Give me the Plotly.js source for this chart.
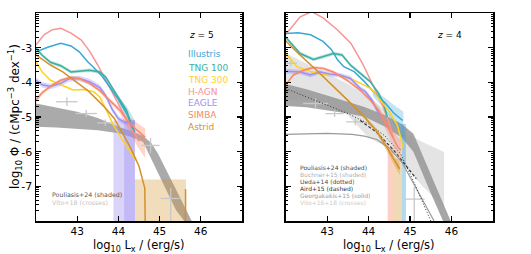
<!DOCTYPE html>
<html><head><meta charset="utf-8">
<script src="https://cdn.plot.ly/plotly-3.0.1.min.js"></script>
<style>html,body{margin:0;padding:0;background:#fff}#chart{width:531px;height:254px}</style>
</head><body><div id="chart"></div>
<script>
// ---------- z = 5 (left panel) ----------
const illus5_x = [42.0, 42.3, 42.6, 42.85, 43.05, 43.25, 43.4, 43.6, 43.8, 44.0, 44.2, 44.4];
const illus5_y = [-3.12, -2.98, -2.87, -2.95, -3.12, -3.40, -3.57, -3.82, -4.15, -4.5, -4.9, -5.44];
const teal5_x = [42.0, 42.15, 42.35, 42.6, 42.85, 43.05, 43.3, 43.55, 43.7, 43.85, 44.0, 44.2, 44.35];
const teal5_y = [-3.02, -3.22, -3.42, -3.52, -3.70, -3.67, -3.65, -3.70, -3.86, -4.15, -4.45, -4.82, -5.35];
const tng300_5_x = [42.0, 42.15, 42.35, 42.6, 42.9, 43.15, 43.4, 43.55, 43.7, 43.9, 44.1, 44.28, 44.42];
const tng300_5_y = [-3.41, -3.70, -3.94, -4.07, -4.22, -4.21, -4.27, -4.42, -4.78, -5.28, -5.66, -6.0, -6.25];
const hagn5_x = [42.0, 42.2, 42.4, 42.6, 42.85, 43.1, 43.3, 43.5, 43.7, 43.9, 44.1, 44.3, 44.5];
const hagn5_y = [-2.92, -2.62, -2.48, -2.44, -2.58, -2.78, -3.1, -3.5, -3.95, -4.4, -4.85, -5.3, -5.7];
const eagle5_x = [42.0, 42.15, 42.35, 42.6, 42.8, 43.05, 43.3, 43.55, 43.7, 43.85, 44.0, 44.15, 44.4];
const eagle5_y = [-3.94, -4.07, -4.12, -4.03, -3.90, -3.89, -3.98, -4.15, -4.40, -4.78, -5.05, -5.15, -5.17];
const eagle5_e = [0.08, 0.08, 0.08, 0.08, 0.08, 0.08, 0.08, 0.08, 0.08, 0.08, 0.08, 0.08, 0.08];
const simba5_x = [42.0, 42.15, 42.35, 42.6, 42.85, 43.05, 43.3, 43.55, 43.7, 43.85, 44.05, 44.2, 44.45, 44.65];
const simba5_y = [-4.51, -4.30, -4.12, -3.94, -3.86, -3.89, -4.03, -4.24, -4.42, -4.60, -4.82, -5.08, -5.38, -5.58];
const simba5_up = [0.08, 0.06, 0.05, 0.05, 0.05, 0.05, 0.05, 0.05, 0.05, 0.06, 0.08, 0.12, 0.2, 0.25];
const simba5_dn = [0.08, 0.06, 0.05, 0.05, 0.05, 0.05, 0.05, 0.05, 0.05, 0.06, 0.1, 0.2, 0.45, 0.6];
const teal5_e = [0.05, 0.05, 0.05, 0.05, 0.05, 0.05, 0.05, 0.05, 0.05, 0.05, 0.06, 0.08, 0.1];
const astrid5_x = [42.0, 42.35, 42.65, 43.0, 43.25, 43.5, 43.7, 43.9, 44.1, 44.3, 44.5, 44.64, 44.65];
const astrid5_y = [-3.21, -3.50, -3.70, -4.0, -4.23, -4.52, -4.76, -5.04, -5.45, -5.9, -6.42, -7.05, -8.0];
const astrid5_tail_x = [45.63, 45.63];
const astrid5_tail_y = [-7.08, -8.0];
const astrid5_box = [44.40, 45.64, -6.8];
const eagle5_box1 = [43.88, 44.40, -5.1];
const eagle5_box2 = [44.14, 44.40, -5.1];
const illus5_band_x = [44.0, 44.2, 44.4];
const illus5_band_hi = [-4.4, -4.7, -5.1];
const illus5_band_lo = [-4.6, -5.1, -5.6];
const pou5_x = [42.0, 42.5, 43.0, 43.5, 44.0, 44.3, 44.6, 44.8, 44.96, 45.2, 45.4, 45.6, 45.78];
const pou5_hi = [-4.61, -4.73, -4.85, -5.03, -5.28, -5.40, -5.55, -5.75, -6.05, -6.62, -7.1, -7.57, -8.0];
const pou5_lo = [-5.28, -5.30, -5.33, -5.38, -5.47, -5.57, -5.72, -6.25, -6.6, -7.2, -7.69, -8.0, -8.0];
const vito5_x = [42.75, 43.22, 43.68, 44.78, 45.27];
const vito5_y = [-4.56, -4.90, -5.17, -5.82, -7.35];
const vito5_xerr = [0.26, 0.26, 0.2, 0.22, 0.25];
const vito5_yup = [0.12, 0.1, 0.1, 0.22, 0.3];
const vito5_ydn = [0.12, 0.1, 0.1, 0.22, 0.7];

// ---------- z = 4 (right panel) ----------
const illus4_x = [42.0, 42.3, 42.6, 42.9, 43.1, 43.25, 43.4, 43.65, 43.9, 44.15, 44.4, 44.6, 44.82];
const illus4_y = [-2.59, -2.57, -2.63, -2.82, -3.05, -3.35, -3.55, -3.69, -3.98, -4.32, -4.6, -4.88, -5.1];
const illus4_band_x = [44.1, 44.4, 44.6, 44.84];
const illus4_band_hi = [-4.2, -4.45, -4.65, -4.85];
const illus4_band_lo = [-4.4, -4.8, -5.2, -5.65];
const teal4_x = [42.0, 42.35, 42.67, 42.91, 43.15, 43.36, 43.56, 43.8, 44.04, 44.24, 44.36, 44.45];
const teal4_y = [-2.70, -3.17, -3.34, -3.26, -3.17, -3.21, -3.50, -3.74, -3.98, -4.32, -4.61, -5.0];
const teal4_e = [0.05, 0.05, 0.05, 0.05, 0.05, 0.05, 0.05, 0.05, 0.05, 0.06, 0.08, 0.1];
const tng300_4_x = [42.0, 42.27, 42.6, 42.92, 43.24, 43.56, 43.81, 44.05, 44.29, 44.53, 44.69, 44.77, 44.82];
const tng300_4_y = [-3.16, -3.55, -3.69, -3.79, -3.79, -3.89, -4.03, -4.18, -4.52, -4.90, -5.24, -5.57, -5.86];
const hagn4_x = [42.0, 42.35, 42.63, 42.91, 43.25, 43.57, 43.85, 44.05, 44.17, 44.35, 44.5, 44.6];
const hagn4_y = [-2.62, -2.11, -1.96, -2.15, -2.49, -2.87, -3.45, -3.94, -4.23, -4.7, -5.2, -5.6];
const eagle4_x = [42.0, 42.35, 42.59, 42.83, 43.07, 43.31, 43.56, 43.8, 43.92, 44.08, 44.2, 44.28];
const eagle4_y = [-3.68, -3.70, -3.79, -3.70, -3.76, -3.79, -3.89, -4.18, -4.27, -4.51, -4.80, -4.95];
const eagle4_e = [0.07, 0.07, 0.07, 0.07, 0.07, 0.07, 0.07, 0.07, 0.07, 0.07, 0.08, 0.08];
const simba4_x = [42.0, 42.18, 42.43, 42.67, 42.91, 43.15, 43.48, 43.8, 44.04, 44.24, 44.4, 44.55, 44.7, 44.78];
const simba4_y = [-4.08, -3.79, -3.65, -3.57, -3.60, -3.70, -3.94, -4.23, -4.51, -4.80, -5.15, -5.5, -5.86, -5.95];
const simba4_e = [0.04, 0.04, 0.04, 0.04, 0.04, 0.04, 0.04, 0.04, 0.05, 0.1, 0.15, 0.22, 0.28, 0.3];
const astrid4_x = [42.0, 42.3, 42.7, 43.1, 43.5, 43.9, 44.2, 44.45, 44.65, 44.75];
const astrid4_y = [-2.80, -3.16, -3.6, -4.05, -4.52, -5.0, -5.42, -5.9, -6.3, -6.5];
const astrid4_e = [0.02, 0.02, 0.02, 0.02, 0.03, 0.05, 0.08, 0.12, 0.15, 0.18];
const simba4_box = [44.46, 44.60, -5.9];
const astrid4_box = [44.60, 44.80, -6.2];
const illus4_box = [44.80, 44.90, -5.2];
const buch4_x = [42.0, 42.5, 43.0, 43.5, 44.0, 44.5, 44.85, 45.3, 45.82];
const buch4_hi = [-3.16, -3.45, -3.75, -4.05, -4.4, -4.9, -5.43, -5.72, -6.01];
const buch4_lo = [-4.5, -4.55, -4.65, -4.95, -5.6, -5.9, -6.4, -7.0, -7.6];
const pou4_x = [42.0, 42.5, 43.0, 43.5, 43.9, 44.4, 44.8, 45.08, 45.5, 45.98];
const pou4_hi = [-4.05, -4.2, -4.38, -4.57, -4.71, -4.95, -5.2, -5.48, -6.66, -8.0];
const pou4_lo = [-4.68, -4.72, -4.8, -4.9, -4.99, -5.28, -5.6, -6.0, -7.2, -8.5];
const ueda4_x = [42.0, 42.5, 43.0, 43.5, 44.0, 44.4, 44.77, 45.1, 45.5];
const ueda4_y = [-4.18, -4.42, -4.65, -4.9, -5.2, -5.55, -6.06, -6.9, -8.0];
const aird4_x = [43.8, 44.2, 44.6, 45.0, 45.15];
const aird4_y = [-5.1, -5.45, -5.95, -6.55, -6.78];
const geo4_x = [42.0, 43.0, 43.6, 43.9, 44.2, 44.5, 44.8, 45.1, 45.4, 45.58];
const geo4_y = [-5.5, -5.47, -5.5, -5.55, -5.65, -5.9, -6.3, -6.95, -7.6, -8.0];
const vito4_x = [42.12, 42.72, 43.18, 43.68, 45.1];
const vito4_y = [-3.45, -4.61, -4.9, -5.14, -7.37];
const vito4_xerr = [0.15, 0.3, 0.22, 0.22, 0.25];
const vito4_yup = [0.1, 0.15, 0.1, 0.1, 0.35];
const vito4_ydn = [0.1, 0.15, 0.1, 0.1, 0.7];

// ---------- axis ticks / labels ----------
const xTicks = [43, 44, 45, 46];
const xTickText = ['43', '44', '45', '46'];
const yTicks = [-7, -6, -5, -4, -3];
const yTickText = ['-7', '-6', '-5', '-4', '-3'];
const simNames = ['Illustris', 'TNG 100', 'TNG 300', 'H-AGN', 'EAGLE', 'SIMBA', 'Astrid'];
const simColors = ['#3aa6d8', '#3ab0a0', '#ffd21f', '#f59595', '#9f8ff2', '#f8896a', '#d4912a'];
const obs5Text = ['Pouliasis+24 (shaded)', 'Vito+18 (crosses)'];
const obs5Colors = ['#555555', '#c4c4c4'];
const obs4Text = ['Pouliasis+24 (shaded)', 'Buchner+15 (shaded)', 'Ueda+14 (dotted)', 'Aird+15 (dashed)', 'Georgakakis+15 (solid)', 'Vito+16+18 (crosses)'];
const obs4Colors = ['#4a4a4a', '#b0b0b0', '#4a4a4a', '#333333', '#9a9a9a', '#cccccc'];

const minorY = [];
for (let d = -8; d < -2; d++) for (let k = 2; k <= 9; k++) minorY.push(d + Math.log10(k));

function rgba(hex, a) {
  const n = parseInt(hex.slice(1), 16);
  return 'rgba(' + (n >> 16) + ',' + ((n >> 8) & 255) + ',' + (n & 255) + ',' + a + ')';
}
const base = {hoverinfo: 'skip', showlegend: false};
function line(x, y, color, ax, opts) {
  return Object.assign({x: x, y: y, mode: 'lines', line: Object.assign({color: color, width: 1.5}, opts || {}),
    xaxis: ax[0], yaxis: ax[1]}, base);
}
function band(x, lo, hi, color, ax) {
  return Object.assign({x: x.concat(x.slice().reverse()), y: hi.concat(lo.slice().reverse()),
    mode: 'lines', fill: 'toself', fillcolor: color, line: {width: 0}, xaxis: ax[0], yaxis: ax[1]}, base);
}
function errBand(x, y, up, dn, color, ax) {
  return band(x, y.map((v, i) => v - dn[i]), y.map((v, i) => v + up[i]), color, ax);
}
function box(b, color, ax) {
  return band([b[0], b[1]], [-8.2, -8.2], [b[2], b[2]], color, ax);
}
function crosses(x, y, xe, yu, yd, ax) {
  return Object.assign({x: x, y: y, mode: 'markers', marker: {size: 1, opacity: 0},
    error_x: {type: 'data', array: xe, color: '#c8c8c8', thickness: 1.3, width: 0},
    error_y: {type: 'data', symmetric: false, array: yu, arrayminus: yd, color: '#c8c8c8', thickness: 1.3, width: 0},
    xaxis: ax[0], yaxis: ax[1]}, base);
}
const A = ['x', 'y'], B = ['x2', 'y2'];
const C = simColors;

const traces = [
  // left panel
  band(pou5_x, pou5_lo, pou5_hi, 'rgba(155,155,155,0.85)', A),
  box(astrid5_box, rgba(C[6], 0.32), A),
  box(eagle5_box1, rgba(C[4], 0.38), A),
  box(eagle5_box2, rgba(C[4], 0.38), A),
  band(illus5_band_x, illus5_band_lo, illus5_band_hi, rgba(C[0], 0.3), A),
  errBand(teal5_x, teal5_y, teal5_e, teal5_e, rgba(C[1], 0.35), A),
  errBand(eagle5_x, eagle5_y, eagle5_e, eagle5_e, rgba(C[4], 0.35), A),
  errBand(simba5_x, simba5_y, simba5_up, simba5_dn, rgba(C[5], 0.35), A),
  crosses(vito5_x, vito5_y, vito5_xerr, vito5_yup, vito5_ydn, A),
  line(hagn5_x, hagn5_y, C[3], A),
  line(illus5_x, illus5_y, C[0], A),
  line(teal5_x, teal5_y, C[1], A),
  line(tng300_5_x, tng300_5_y, C[2], A),
  line(eagle5_x, eagle5_y, C[4], A),
  line(simba5_x, simba5_y, C[5], A),
  line(astrid5_x, astrid5_y, C[6], A),
  line(astrid5_tail_x, astrid5_tail_y, C[6], A),
  // right panel
  band(buch4_x, buch4_lo, buch4_hi, 'rgba(210,210,210,0.6)', B),
  band(pou4_x, pou4_lo, pou4_hi, 'rgba(150,150,150,0.85)', B),
  box(simba4_box, rgba(C[5], 0.4), B),
  box(astrid4_box, rgba(C[6], 0.35), B),
  box(illus4_box, rgba(C[0], 0.4), B),
  crosses(vito4_x, vito4_y, vito4_xerr, vito4_yup, vito4_ydn, B),
  line(geo4_x, geo4_y, '#9a9a9a', B, {width: 1.2}),
  line(ueda4_x, ueda4_y, '#333333', B, {width: 1, dash: '1px,2px'}),
  line(aird4_x, aird4_y, '#333333', B, {width: 1.2, dash: '3px,2px'}),
  band(illus4_band_x, illus4_band_lo, illus4_band_hi, rgba(C[0], 0.3), B),
  errBand(teal4_x, teal4_y, teal4_e, teal4_e, rgba(C[1], 0.35), B),
  errBand(eagle4_x, eagle4_y, eagle4_e, eagle4_e, rgba(C[4], 0.35), B),
  errBand(simba4_x, simba4_y, simba4_e, simba4_e, rgba(C[5], 0.35), B),
  errBand(astrid4_x, astrid4_y, astrid4_e, astrid4_e, rgba(C[6], 0.35), B),
  line(hagn4_x, hagn4_y, C[3], B),
  line(illus4_x, illus4_y, C[0], B),
  line(teal4_x, teal4_y, C[1], B),
  line(tng300_4_x, tng300_4_y, C[2], B),
  line(eagle4_x, eagle4_y, C[4], B),
  line(simba4_x, simba4_y, C[5], B),
  line(astrid4_x, astrid4_y, C[6], B)
];

const FONT = 'DejaVu Sans, sans-serif';
function xax(dom, anchor) {
  return {domain: dom, anchor: anchor, range: [42, 47], tickmode: 'array', tickvals: xTicks, ticktext: xTickText,
    ticks: 'inside', ticklen: 5, tickwidth: 1.2, tickcolor: '#000', showline: true, linecolor: '#000', linewidth: 1.5,
    mirror: 'ticks', showgrid: false, zeroline: false, tickfont: {family: FONT, size: 10.5, color: '#000'}};
}
function yax(anchor, labels) {
  return {anchor: anchor, domain: [0, 1], range: [-8, -2], tickmode: 'array', tickvals: yTicks, ticktext: yTickText,
    showticklabels: labels, ticks: 'inside', ticklen: 5, tickwidth: 1.2, tickcolor: '#000', showline: true,
    linecolor: '#000', linewidth: 1.5, mirror: 'ticks', showgrid: false, zeroline: false,
    tickfont: {family: FONT, size: 11, color: '#000'},
    minor: {tickmode: 'array', tickvals: minorY, ticks: 'inside', ticklen: 2.5, tickwidth: 1, tickcolor: '#000', showgrid: false}};
}
const W = 457, H = 208, L0 = 36, T0 = 13;
const px = v => (v - L0) / W, py = v => (T0 + H - v) / H;
const ann = [];
function txt(t, x, y, color, size, extra) {
  ann.push(Object.assign({text: t, x: px(x), y: py(y), xref: 'paper', yref: 'paper', showarrow: false,
    xanchor: 'left', yanchor: 'middle', font: {family: FONT, size: size, color: color}}, extra || {}));
}
txt('<i>z</i> = 5', 187, 35, '#000', 9);
txt('<i>z</i> = 4', 435, 35, '#000', 9);
const legY = [54, 67.5, 79.5, 91.5, 103.3, 115, 126.7];
simNames.forEach((n, i) => txt(n, 186, legY[i], simColors[i], 9));
obs5Text.forEach((t, i) => txt(t, 50, 194 + 8 * i, obs5Colors[i], 6.3));
obs4Text.forEach((t, i) => txt(t, 298, 167.7 + 6.9 * i, obs4Colors[i], 6, {height: 7}));
// axis titles
txt('log<sub>10</sub> Φ / (cMpc<sup>−3</sup> dex<sup>−1</sup>)', 15, 117, '#000', 12, {xanchor: 'center', textangle: -90});
txt('log<sub>10</sub> L<sub>x</sub> / (erg/s)', 139, 246, '#000', 11.5, {xanchor: 'center', height: 14});
txt('log<sub>10</sub> L<sub>x</sub> / (erg/s)', 389, 246, '#000', 11.5, {xanchor: 'center', height: 14});

const layout = {
  width: 531, height: 254, margin: {l: 36, r: 38, t: 13, b: 33}, paper_bgcolor: '#fff', plot_bgcolor: '#fff',
  showlegend: false, font: {family: FONT},
  xaxis: xax([0, 206 / W], 'y'), yaxis: yax('x', true),
  xaxis2: xax([(285.7 - L0) / W, 1], 'y2'), yaxis2: yax('x2', false),
  annotations: ann
};
Plotly.newPlot('chart', traces, layout, {staticPlot: true, displayModeBar: false});
</script></body></html>
